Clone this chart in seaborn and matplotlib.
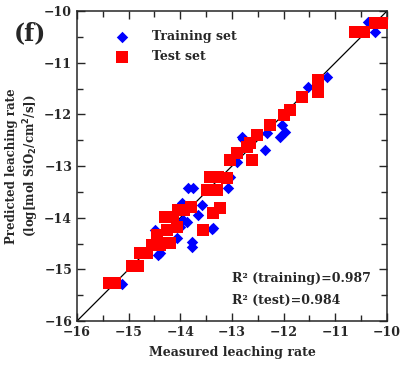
import pandas as pd
import seaborn as sns
import matplotlib.pyplot as plt
from matplotlib.ticker import MultipleLocator

# measured vs predicted leaching rate (log mol SiO2/cm2/s)
train_x = [-15.13, -14.43, -14.39, -14.49, -14.06, -13.95, -14.0, -13.97, -13.77, -13.77,
           -13.39, -13.66, -13.58, -13.87, -13.75, -13.85, -13.08, -13.04, -12.9, -12.81,
           -12.78, -12.36, -12.33, -12.07, -12.03, -11.97, -11.53, -11.16, -10.37, -10.23,
           -13.95, -13.37]
train_y = [-15.28, -14.72, -14.68, -14.24, -14.39, -14.05, -14.18, -13.71, -14.47, -14.57,
           -14.22, -13.95, -13.75, -14.08, -13.43, -13.43, -13.43, -13.21, -12.92, -12.44,
           -12.48, -12.69, -12.36, -12.44, -12.21, -12.34, -11.47, -11.28, -10.21, -10.41,
           -13.75, -14.2]

test_x = [-15.38, -15.26, -14.94, -14.82, -14.78, -14.65, -14.55, -14.4, -14.45, -14.3,
          -14.2, -14.26, -14.3, -14.15, -14.06, -13.93, -14.04, -13.8, -13.56, -13.37,
          -13.23, -13.48, -13.29, -13.43, -13.27, -13.1, -13.04, -12.9, -12.71, -12.65,
          -12.61, -12.52, -12.27, -12.0, -11.88, -11.65, -11.34, -11.34, -10.62, -10.45,
          -10.23, -10.08]
test_y = [-15.27, -15.27, -14.93, -14.93, -14.68, -14.68, -14.53, -14.53, -14.34, -14.49,
          -14.49, -14.24, -13.99, -13.99, -14.18, -13.85, -13.85, -13.79, -14.24, -13.91,
          -13.81, -13.46, -13.46, -13.21, -13.21, -13.23, -12.88, -12.75, -12.63, -12.56,
          -12.88, -12.4, -12.21, -12.01, -11.92, -11.66, -11.34, -11.57, -10.41, -10.41,
          -10.23, -10.23]

r2_train = 0.987
r2_test = 0.984

train = pd.DataFrame({'measured': train_x, 'predicted': train_y})
test = pd.DataFrame({'measured': test_x, 'predicted': test_y})

sns.set_style('ticks')
plt.rcParams['font.family'] = ['DejaVu Serif']
plt.rcParams['font.weight'] = 'bold'
plt.rcParams['mathtext.default'] = 'bf'

fig = plt.figure(figsize=(4.02, 3.67), dpi=100)
ax = fig.add_axes([0.1915, 0.1253, 0.7712, 0.8447])

ax.plot([-16, -10], [-16, -10], color='black', lw=0.9, zorder=1)
sns.scatterplot(data=train, x='measured', y='predicted', ax=ax, marker='D',
                color='#0000ff', s=34, linewidth=0, label='Training set', zorder=2)
sns.scatterplot(data=test, x='measured', y='predicted', ax=ax, marker='s',
                color='#ff0000', s=78, linewidth=0, label='Test set', zorder=3)

ax.set_xlim(-16, -10)
ax.set_ylim(-16, -10)
ax.xaxis.set_major_locator(MultipleLocator(1))
ax.yaxis.set_major_locator(MultipleLocator(1))
ax.xaxis.set_minor_locator(MultipleLocator(0.5))
ax.yaxis.set_minor_locator(MultipleLocator(0.5))
ax.tick_params(which='both', direction='in', top=True, right=True, labelsize=9, width=1)
ax.tick_params(which='major', length=6)
ax.tick_params(which='minor', length=4)
for sp in ax.spines.values():
    sp.set_linewidth(1.1)

ax.set_xlabel('Measured leaching rate', fontsize=9, fontweight='bold', labelpad=5)
ax.set_ylabel('Predicted leaching rate\n(log[mol SiO$_2$/cm$^2$/s])', fontsize=8.5,
              fontweight='bold', labelpad=2, linespacing=1.3)

ax.legend(loc='upper left', bbox_to_anchor=(0.07, 0.975), frameon=False,
          prop={'weight': 'bold', 'size': 9}, handletextpad=1.4, labelspacing=0.55)

ax.text(0.5, 0.125, 'R² (training)=%.3f' % r2_train, transform=ax.transAxes,
        fontsize=9, fontweight='bold')
ax.text(0.5, 0.055, 'R² (test)=%.3f' % r2_test, transform=ax.transAxes,
        fontsize=9, fontweight='bold')
fig.text(0.035, 0.91, '(f)', fontsize=17, fontweight='bold', va='center')

fig.savefig('out.png', dpi=100)
